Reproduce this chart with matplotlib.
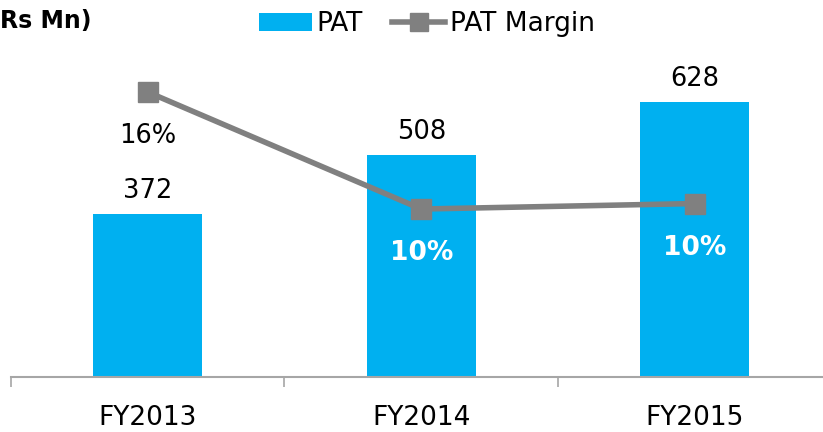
import matplotlib
matplotlib.use("Agg")
import matplotlib.pyplot as plt
from matplotlib.lines import Line2D
from matplotlib.patches import Patch

categories = ["FY2013", "FY2014", "FY2015"]
pat = [372, 508, 628]
pat_margin = [0.16, 0.096, 0.099]
margin_labels = ["16%", "10%", "10%"]

plt.rcParams['font.family'] = ['DejaVu Sans']

fig = plt.figure(figsize=(8.23, 4.32), dpi=100)
W, H = 823, 432
left = 11 / W
width = 820.5 / W
bottom = (H - 377) / H
height = 350 / H
ax = fig.add_axes([left, bottom, width, height])
ax2 = ax.twinx()

x = list(range(len(categories)))
bar_color = "#00B0F0"
line_color = "#808080"

ax.bar(x, pat, width=0.4, color=bar_color, zorder=2)
ax.set_xlim(-0.5, 2.5)
ax.set_ylim(0, 800)

for xi, v in zip(x, pat):
    ax.annotate(f"{v}", (xi, v), xytext=(0, 11.5), textcoords="offset points",
                ha="center", va="baseline", fontsize=18.5, color="black")

ax2.plot(x, pat_margin, color=line_color, lw=4, marker="s", markersize=14.5,
         markerfacecolor=line_color, markeredgecolor=line_color, zorder=3)
ax2.set_ylim(0.0041, 0.1956)

for i, (xi, v, lab) in enumerate(zip(x, pat_margin, margin_labels)):
    if i == 0:
        ax2.annotate(lab, (xi, v), xytext=(0, -37), textcoords="offset points",
                     ha="center", va="baseline", fontsize=18.5, color="black")
    else:
        ax2.annotate(lab, (xi, v), xytext=(0, -37), textcoords="offset points",
                     ha="center", va="baseline", fontsize=19, color="white",
                     fontweight="bold")

for a in (ax, ax2):
    for s in ("top", "right", "left"):
        a.spines[s].set_visible(False)
    a.set_yticks([])
ax2.spines["bottom"].set_visible(False)
ax.spines["bottom"].set_color("#A6A6A6")
ax.spines["bottom"].set_linewidth(1.5)

ax.set_xticks([-0.5, 0.5, 1.5, 2.5])
ax.set_xticklabels([])
ax.set_xticks(x, minor=True)
ax.set_xticklabels(categories, minor=True, fontsize=19)
ax.tick_params(axis="x", which="major", length=7, width=1.2, color="#A6A6A6")
ax.tick_params(axis="x", which="minor", length=0, pad=20)

ax.set_zorder(1)
ax2.set_zorder(2)
ax.patch.set_visible(False)
ax2.patch.set_visible(False)

fig.text(0 / W, 1 - 21 / H, "Rs Mn)", ha="left", va="center",
         fontsize=17, fontweight="bold")

handles = [Patch(facecolor=bar_color, edgecolor="none"),
           Line2D([0], [0], color=line_color, lw=4, marker="s", markersize=13,
                  markerfacecolor=line_color, markeredgecolor=line_color)]
fig.legend(handles, ["PAT", "PAT Margin"], loc="center", bbox_to_anchor=(427 / W, 1 - 24 / H),
           ncol=2, frameon=False, fontsize=19, handlelength=2.0, handleheight=0.7,
           handletextpad=0.2, columnspacing=1.1, borderpad=0)

fig.savefig("out.png", dpi=100)
